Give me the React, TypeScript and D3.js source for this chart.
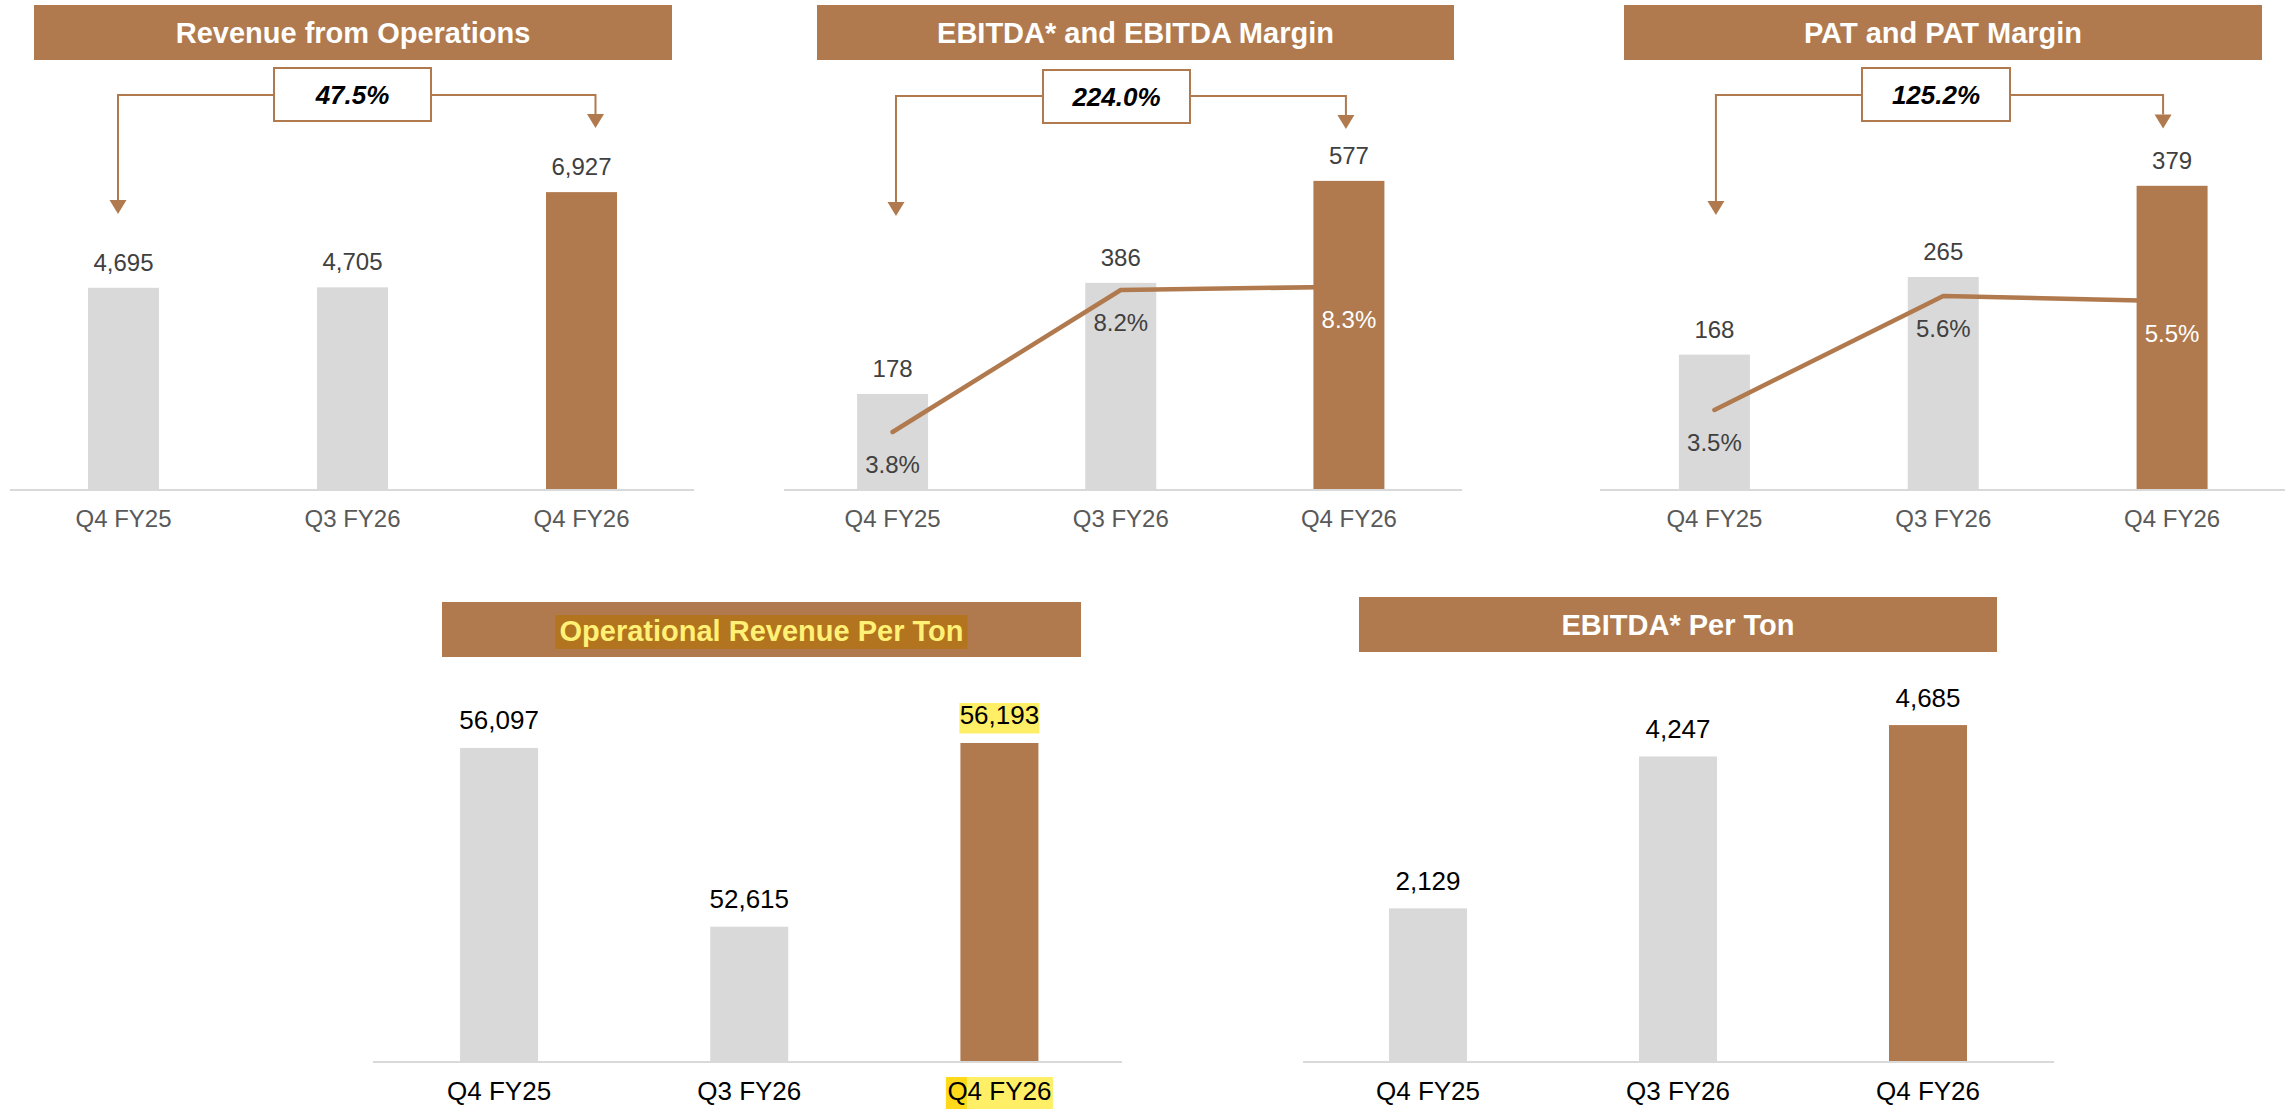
import React from 'react';
import * as d3 from 'd3';

// ---------- data ----------
const categories = ['Q4 FY25', 'Q3 FY26', 'Q4 FY26'];
const revenue = [4695, 4705, 6927];
const ebitda = [178, 386, 577];
const ebitdaMargin = [3.8, 8.2, 8.3];
const pat = [168, 265, 379];
const patMargin = [3.5, 5.6, 5.5];
const revenuePerTon = [56097, 52615, 56193];
const ebitdaPerTon = [2129, 4247, 4685];
const growthLabels = ['47.5%', '224.0%', '125.2%'];
const chartTitles = [
  'Revenue from Operations',
  'EBITDA* and EBITDA Margin',
  'PAT and PAT Margin',
  'Operational Revenue Per Ton',
  'EBITDA* Per Ton',
];

// ---------- styles ----------
const BROWN = '#B07A4E';
const GRAY = '#D9D9D9';
const AXIS = '#D9D9D9';
const FONT = '"Liberation Sans", Arial, sans-serif';
const fmt = d3.format(',');
const pct = (v: number) => d3.format('.1f')(v) + '%';

type Cfg = {
  title: string;
  values: number[];
  xRange: [number, number];
  axisX: [number, number];
  yDomain: [number, number];
  yRange: [number, number];
  barW: number;
  titleBox: { x: number; y: number; w: number; h: number; base: number };
  valueFs: number;
  valueColor: string;
  catFs: number;
  catColor: string;
  catBase: number;
  labelGap: number;
  margin?: { values: number[]; domain: [number, number]; range: [number, number] };
  growth?: { label: string; boxCx: number; boxW: number; boxY: number; lineY: number; offs: [number, number]; tips: [number, number] };
  highlightTitle?: boolean;
  highlightLast?: boolean;
};

const cfgs: Cfg[] = [
  {
    title: chartTitles[0], values: revenue, xRange: [9, 696], axisX: [10, 694],
    yDomain: [0, 7000], yRange: [489, 189], barW: 71,
    titleBox: { x: 34, y: 5, w: 638, h: 55, base: 43 },
    valueFs: 24, valueColor: '#404040', catFs: 24, catColor: '#595959', catBase: 527, labelGap: 17,
    growth: { label: growthLabels[0], boxCx: 352.5, boxW: 157, boxY: 68, lineY: 95, offs: [-5.5, 14], tips: [214, 128] },
  },
  {
    title: chartTitles[1], values: ebitda, xRange: [778.5, 1463], axisX: [784, 1462],
    yDomain: [0, 600], yRange: [489, 168.6], barW: 71,
    titleBox: { x: 817, y: 5, w: 637, h: 55, base: 43 },
    valueFs: 24, valueColor: '#404040', catFs: 24, catColor: '#595959', catBase: 527, labelGap: 17,
    margin: { values: ebitdaMargin, domain: [0, 10], range: [554.6, 231.9] },
    growth: { label: growthLabels[1], boxCx: 1116.5, boxW: 147, boxY: 70, lineY: 96, offs: [3.4, -3], tips: [216, 129] },
  },
  {
    title: chartTitles[2], values: pat, xRange: [1600, 2286.5], axisX: [1600, 2285],
    yDomain: [0, 400], yRange: [489, 169], barW: 71,
    titleBox: { x: 1624, y: 5, w: 638, h: 55, base: 43 },
    valueFs: 24, valueColor: '#404040', catFs: 24, catColor: '#595959', catBase: 527, labelGap: 17,
    margin: { values: patMargin, domain: [0, 6], range: [600, 274.2] },
    growth: { label: growthLabels[2], boxCx: 1936, boxW: 148, boxY: 68, lineY: 95, offs: [1.5, -9], tips: [215, 128.6] },
  },
  {
    title: chartTitles[3], values: revenuePerTon, xRange: [374, 1124.5], axisX: [373, 1122],
    yDomain: [50000, 57000], yRange: [1061, 701.55], barW: 78,
    titleBox: { x: 442, y: 602, w: 639, h: 55, base: 641 },
    valueFs: 26, valueColor: '#000000', catFs: 26, catColor: '#000000', catBase: 1100, labelGap: 19,
    highlightTitle: true, highlightLast: true,
  },
  {
    title: chartTitles[4], values: ebitdaPerTon, xRange: [1303, 2053], axisX: [1303, 2054],
    yDomain: [0, 5000], yRange: [1061, 702.5], barW: 78,
    titleBox: { x: 1359, y: 597, w: 638, h: 55, base: 635 },
    valueFs: 26, valueColor: '#000000', catFs: 26, catColor: '#000000', catBase: 1100, labelGap: 18.5,
  },
];

function Chart({ c }: { c: Cfg }) {
  const x = d3.scalePoint<string>().domain(categories).range(c.xRange).padding(0.5);
  const y = d3.scaleLinear().domain(c.yDomain).range(c.yRange);
  const base = c.yRange[0];
  const last = categories.length - 1;
  const tb = c.titleBox;
  const tcx = tb.x + tb.w / 2;

  let linePath: string | null = null;
  let my: d3.ScaleLinear<number, number> | null = null;
  if (c.margin) {
    my = d3.scaleLinear().domain(c.margin.domain).range(c.margin.range);
    const m = my;
    linePath = d3.line<number>().x((_, i) => x(categories[i])!).y((v) => m(v))(c.margin.values);
  }

  const g = c.growth;
  return (
    <g>
      {/* title */}
      <rect x={tb.x} y={tb.y} width={tb.w} height={tb.h} fill={BROWN} />
      {c.highlightTitle && (
        <rect x={tcx - 206} y={tb.base - 26} width={412} height={34} fill="#B2741F" />
      )}
      <text x={tcx} y={tb.base} textAnchor="middle" fontFamily={FONT} fontWeight="bold" fontSize={29}
        fill={c.highlightTitle ? '#FFF176' : '#FFFFFF'}>{c.title}</text>

      {/* growth annotation */}
      {g && (() => {
        const lx = x(categories[0])! + g.offs[0];
        const rx = x(categories[last])! + g.offs[1];
        const bl = g.boxCx - g.boxW / 2;
        const br = g.boxCx + g.boxW / 2;
        const ah = 14, aw = 8.5;
        return (
          <g>
            <path d={`M${bl},${g.lineY}H${lx}V${g.tips[0] - ah}`} fill="none" stroke={BROWN} strokeWidth={2} />
            <path d={`M${br},${g.lineY}H${rx}V${g.tips[1] - ah}`} fill="none" stroke={BROWN} strokeWidth={2} />
            <path d={`M${lx - aw},${g.tips[0] - ah}L${lx + aw},${g.tips[0] - ah}L${lx},${g.tips[0]}Z`} fill={BROWN} />
            <path d={`M${rx - aw},${g.tips[1] - ah}L${rx + aw},${g.tips[1] - ah}L${rx},${g.tips[1]}Z`} fill={BROWN} />
            <rect x={bl} y={g.boxY} width={g.boxW} height={53} fill="#FFFFFF" stroke={BROWN} strokeWidth={2} />
            <text x={g.boxCx} y={g.boxY + 36} textAnchor="middle" fontFamily={FONT} fontWeight="bold"
              fontStyle="italic" fontSize={26} fill="#000000">{g.label}</text>
          </g>
        );
      })()}

      {/* bars */}
      {c.values.map((v, i) => (
        <rect key={'b' + i} x={x(categories[i])! - c.barW / 2} y={y(v)} width={c.barW} height={base - y(v)}
          fill={i === last ? BROWN : GRAY} />
      ))}

      {/* axis line */}
      <line x1={c.axisX[0]} x2={c.axisX[1]} y1={base + 1} y2={base + 1} stroke={AXIS} strokeWidth={2} />

      {/* margin line */}
      {linePath && (
        <path d={linePath} fill="none" stroke={BROWN} strokeWidth={4.5} strokeLinecap="round" strokeLinejoin="round" />
      )}
      {my && c.margin!.values.map((v, i) => (
        <text key={'m' + i} x={x(categories[i])!} y={my!(v) + 41} textAnchor="middle" fontFamily={FONT}
          fontSize={24} fill={i === last ? '#FFFFFF' : '#404040'}>{pct(v)}</text>
      ))}

      {/* value labels */}
      {c.values.map((v, i) => {
        const cx = x(categories[i])!;
        const ty = y(v) - c.labelGap;
        const hl = c.highlightLast && i === last;
        return (
          <g key={'v' + i}>
            {hl && <rect x={cx - 40} y={ty - 21} width={80} height={30.5} fill="#FFEF66" />}
            <text x={cx} y={ty} textAnchor="middle" fontFamily={FONT} fontSize={c.valueFs} fill={c.valueColor}>
              {fmt(v)}
            </text>
          </g>
        );
      })}

      {/* category labels */}
      {categories.map((cat, i) => {
        const cx = x(cat)!;
        const hl = c.highlightLast && i === last;
        return (
          <g key={'c' + i}>
            {hl && <rect x={cx - 53.5} y={c.catBase - 23} width={107} height={40} fill="#FFEF66" />}
            {hl && <rect x={cx - 53.5} y={c.catBase - 23} width={21} height={40} fill="#FFD91A" />}
            <text x={cx} y={c.catBase} textAnchor="middle" fontFamily={FONT} fontSize={c.catFs} fill={c.catColor}>
              {cat}
            </text>
          </g>
        );
      })}
    </g>
  );
}

export default function App() {
  return (
    <svg width={2285} height={1109} viewBox="0 0 2285 1109"
      style={{ position: 'absolute', left: 0, top: 0, background: '#FFFFFF', display: 'block' }}>
      <rect x={0} y={0} width={2285} height={1109} fill="#FFFFFF" />
      {cfgs.map((c, i) => <Chart key={i} c={c} />)}
    </svg>
  );
}
